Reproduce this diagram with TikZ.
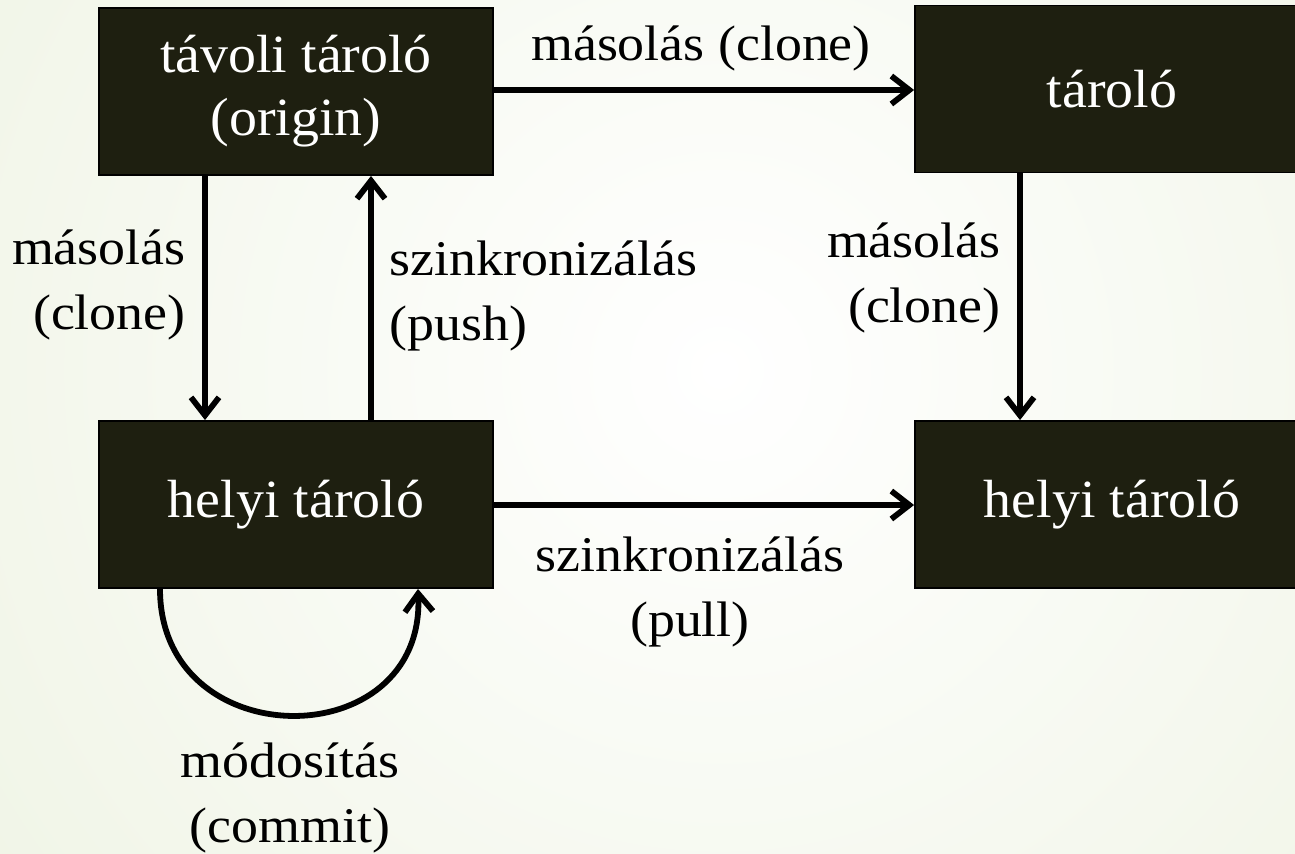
\documentclass[tikz,border=0pt]{standalone}
\usepackage{fontspec}
\setmainfont{Liberation Serif}
\newfontfamily\lblfont{Liberation Serif}[FakeStretch=1.08]
\newfontfamily\boxfont{Liberation Serif}[FakeStretch=1.04]
\usetikzlibrary{arrows.meta}
\definecolor{bggreen}{RGB}{226,235,207}
\definecolor{boxfill}{RGB}{30,31,16}
\tikzset{
  repo/.style={draw=black, line width=1.1pt, fill=boxfill, text=white, minimum width=7.88cm, minimum height=3.34cm, inner sep=0pt, align=center, font=\boxfont\fontsize{30.6}{35.9}\selectfont},
  lbl/.style={inner sep=0pt, font=\lblfont\fontsize{28.4}{36.9}\selectfont, text=black},
  arr/.style={line width=3.3pt, -{Straight Barb[length=0.36cm,width=0.56cm]}}
}
\begin{document}
\begin{tikzpicture}[x=0.02cm,y=-0.02cm]
\useasboundingbox (0,0) rectangle (1295,853);
\begin{scope}
\clip (0,0) rectangle (1295,853);
\fill[bggreen] (0,0) rectangle (1295,853);
\shade[inner color=white, outer color=bggreen] (720,370) circle (1750);
\end{scope}
\node[repo] (A) at (296,91.5) {távoli tároló\\(origin)};
\node[repo] (B) at (1112,89) {tároló};
\node[repo] (C) at (296,504.5) {helyi tároló};
\node[repo] (D) at (1112,504.5) {helyi tároló};
\coordinate (x1) at (205,0);
\coordinate (x2) at (371,0);
\coordinate (x3) at (1020,0);
\coordinate (l1) at (160,0);
\coordinate (l2) at (418,0);
\coordinate (y1) at (0,90);
\coordinate (y2) at (0,505);
\draw[arr] (x1 |- A.south) -- (x1 |- C.north);
\draw[arr] (x2 |- C.north) -- (x2 |- A.south);
\draw[arr] (A.east |- y1) -- (B.west |- y1);
\draw[arr] (x3 |- B.south) -- (x3 |- D.north);
\draw[arr] (C.east |- y2) -- (D.west |- y2);
\draw[arr] (l1 |- C.south) .. controls (160,757) and (425,757) .. (l2 |- C.south);
\node[lbl] (t1) at (701,48) {másolás (clone)};
\node[lbl, anchor=east, align=right] (t2) at (186,285) {másolás\\(clone)};
\node[lbl, anchor=west, align=left] (t3) at (389,296) {szinkronizálás\\(push)};
\node[lbl, anchor=east, align=right] (t4) at (1001,278) {másolás\\(clone)};
\node[lbl, align=center] (t5) at (690,592) {szinkronizálás\\(pull)};
\node[lbl, align=center] (t6) at (290,798) {módosítás\\(commit)};
\end{tikzpicture}
\end{document}
